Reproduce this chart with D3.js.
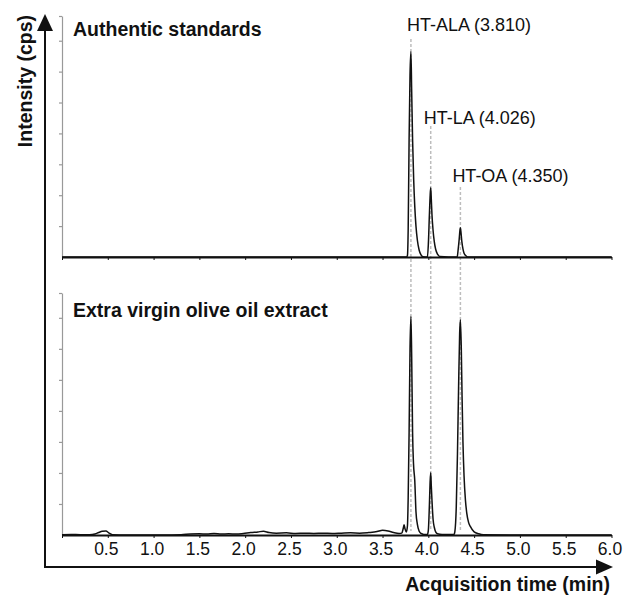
<!DOCTYPE html>
<html>
<head>
<meta charset="utf-8">
<title>Chromatogram</title>
<style>
    body { margin: 0; background: #fff; }
    text { font-family: "Liberation Sans", Arial, sans-serif; fill: #111; }
</style>
</head>
<body>
<div class="plot_container"></div>
<script src="https://cdn.jsdelivr.net/npm/d3@7"></script>
<script type="text/javascript">
// ---- data ----
var panelTitles = ["Authentic standards", "Extra virgin olive oil extract"];
var peakNames = ["HT-ALA", "HT-LA", "HT-OA"];
var peakTimes = [3.810, 4.026, 4.350];
var xTickValues = [0.5, 1.0, 1.5, 2.0, 2.5, 3.0, 3.5, 4.0, 4.5, 5.0, 5.5, 6.0];
var yTickValues = [1, 2, 3, 4, 5, 6, 7];
var xTitle = "Acquisition time (min)";
var yTitle = "Intensity (cps)";

// [time (min), intensity (arbitrary units)]
var standardsTrace = [
    [0, 0], [1, 0], [2, 0], [3, 0], [3.5, 0], [3.765, 0],
    [3.772, 0.05], [3.78, 0.9], [3.79, 3.8], [3.80, 5.9], [3.81, 6.64], [3.818, 5.4],
    [3.828, 3.8], [3.84, 2.5], [3.852, 1.63], [3.865, 1.0], [3.88, 0.55], [3.90, 0.22],
    [3.92, 0.07], [3.94, 0.01],
    [3.99, 0], [4.00, 0.4], [4.012, 1.4], [4.020, 2.0], [4.026, 2.24], [4.032, 1.9],
    [4.040, 1.35], [4.052, 0.85], [4.065, 0.5], [4.08, 0.25], [4.10, 0.09], [4.125, 0.02],
    [4.315, 0], [4.325, 0.22], [4.337, 0.58], [4.345, 0.86], [4.35, 0.95], [4.357, 0.78],
    [4.365, 0.52], [4.378, 0.26], [4.39, 0.12], [4.41, 0.04], [4.43, 0],
    [5, 0], [6, 0]
];
var extractTrace = [
    [0, 0.01], [0.1, 0.02], [0.2, 0.01], [0.3, 0.01], [0.36, 0.03], [0.40, 0.08],
    [0.44, 0.12], [0.48, 0.13], [0.51, 0.07], [0.55, 0.01], [0.7, 0], [0.9, 0],
    [1.1, 0], [1.3, 0.01], [1.4, 0.03], [1.5, 0.04], [1.58, 0.03], [1.66, 0.05],
    [1.74, 0.03], [1.82, 0.04], [1.9, 0.03], [1.98, 0.05], [2.06, 0.08], [2.14, 0.1],
    [2.2, 0.12], [2.26, 0.08], [2.34, 0.06], [2.45, 0.07], [2.55, 0.05], [2.65, 0.06],
    [2.75, 0.05], [2.85, 0.06], [2.95, 0.05], [3.05, 0.06], [3.15, 0.07], [3.25, 0.06],
    [3.35, 0.08], [3.44, 0.11], [3.5, 0.15], [3.56, 0.13], [3.62, 0.08], [3.68, 0.05],
    [3.71, 0.06], [3.725, 0.2], [3.735, 0.33], [3.745, 0.2], [3.76, 0.1],
    [3.772, 0.3], [3.78, 1.2], [3.79, 3.3], [3.80, 6.0], [3.81, 7.04], [3.818, 5.8],
    [3.828, 3.3], [3.838, 2.3], [3.852, 1.75], [3.865, 0.75], [3.88, 0.35], [3.90, 0.12],
    [3.92, 0.05], [3.95, 0.02], [3.99, 0.02],
    [4.00, 0.15], [4.012, 1.0], [4.020, 1.75], [4.026, 2.01], [4.032, 1.6], [4.040, 1.1],
    [4.052, 0.5], [4.065, 0.25], [4.08, 0.1], [4.10, 0.04], [4.15, 0.02], [4.28, 0.02],
    [4.29, 0.12], [4.305, 0.9], [4.318, 2.6], [4.33, 4.7], [4.342, 6.5], [4.35, 6.94],
    [4.36, 6.0], [4.368, 4.5], [4.378, 3.0], [4.39, 1.9], [4.405, 1.13], [4.42, 0.7],
    [4.44, 0.4], [4.46, 0.27], [4.50, 0.1], [4.55, 0.04], [4.6, 0.01], [5, 0], [6, 0]
];

// ---- layout ----
var width = 625;
var height = 595;
var labelLayout = [
    {dx: -4, y: 31, dashTop: 39},
    {dx: -7, y: 124, dashTop: 126},
    {dx: -8, y: 182, dashTop: 187}
];

var svg = d3.select(".plot_container").append("svg")
        .attr("width", width)
        .attr("height", height);

var x = d3.scaleLinear().domain([0, 6]).range([62, 611.5]);
var panels = [
    {title: panelTitles[0], trace: standardsTrace, y: d3.scaleLinear().domain([0, 7.8]).range([257, 16]), titleY: 36},
    {title: panelTitles[1], trace: extractTrace, y: d3.scaleLinear().domain([0, 7.8]).range([535, 293]), titleY: 317}
];
var bottomY = panels[1].y;

// dashed retention-time markers (behind the traces)
svg.selectAll(".marker")
    .data(peakTimes)
    .enter()
    .append("line")
    .attr("class", "marker")
    .attr("x1", function(d){ return x(d); })
    .attr("x2", function(d){ return x(d); })
    .attr("y1", function(d, i){ return labelLayout[i].dashTop; })
    .attr("y2", bottomY(0) - 4)
    .attr("stroke", "#bdbdbd")
    .attr("stroke-width", 1.5)
    .attr("stroke-dasharray", "3,2");

panels.forEach(function(p, k){
    // inner intensity axis (grey)
    var yAxis = d3.axisLeft(p.y)
            .tickValues(yTickValues.concat([7.8]))
            .tickSize(3)
            .tickSizeOuter(0)
            .tickFormat("");
    var ga = svg.append("g")
            .attr("transform", "translate(" + x(0) + ",0)")
            .call(yAxis);
    ga.selectAll("path, line").attr("stroke", "#999").attr("stroke-width", 1.2);

    // trace
    var line = d3.line()
            .x(function(d){ return x(d[0]); })
            .y(function(d){ return p.y(d[1]); })
            .curve(d3.curveMonotoneX);
    svg.append("path")
        .datum(p.trace)
        .attr("d", line)
        .attr("fill", "none")
        .attr("stroke", "#111")
        .attr("stroke-width", 1.5)
        .attr("stroke-linejoin", "round");

    // time baseline with ticks
    var xAxis = d3.axisBottom(x)
            .tickValues([0].concat(xTickValues))
            .tickSize(3)
            .tickSizeOuter(0)
            .tickFormat("");
    var gx = svg.append("g")
            .attr("transform", "translate(0," + p.y(0) + ")")
            .call(xAxis);
    gx.select(".domain").attr("stroke", "#111").attr("stroke-width", 2);
    gx.selectAll(".tick line").attr("stroke", "#111").attr("stroke-width", 1);

    // panel title
    svg.append("text")
        .attr("x", 73)
        .attr("y", p.titleY)
        .attr("font-size", "19.5px")
        .attr("font-weight", "bold")
        .text(p.title);
});

// tick labels under the lower panel
svg.selectAll(".xlab")
    .data(xTickValues)
    .enter()
    .append("text")
    .attr("class", "xlab")
    .attr("x", function(d){ return x(d) - 1.5; })
    .attr("y", 554.5)
    .attr("text-anchor", "middle")
    .attr("font-size", "17.5px")
    .text(function(d){ return d.toFixed(1); });

// peak labels
svg.selectAll(".peaklab")
    .data(peakNames)
    .enter()
    .append("text")
    .attr("class", "peaklab")
    .attr("x", function(d, i){ return x(peakTimes[i]) + labelLayout[i].dx; })
    .attr("y", function(d, i){ return labelLayout[i].y; })
    .attr("font-size", "18px")
    .text(function(d, i){ return d + " (" + peakTimes[i].toFixed(3) + ")"; });

// outer arrows
svg.append("line")
    .attr("x1", 45).attr("y1", 567).attr("x2", 45).attr("y2", 28)
    .attr("stroke", "#111").attr("stroke-width", 2);
svg.append("path")
    .attr("d", "M45,14 L37,31 L53,31 Z")
    .attr("fill", "#111");
svg.append("line")
    .attr("x1", 44).attr("y1", 567).attr("x2", 599).attr("y2", 567)
    .attr("stroke", "#111").attr("stroke-width", 2);
svg.append("path")
    .attr("d", "M613,567 L596,559.5 L596,574.5 Z")
    .attr("fill", "#111");

// axis titles
svg.append("text")
    .attr("transform", "translate(32,15) rotate(-90)")
    .attr("text-anchor", "end")
    .attr("font-size", "19.5px")
    .attr("font-weight", "bold")
    .text(yTitle);
svg.append("text")
    .attr("x", 610)
    .attr("y", 591)
    .attr("text-anchor", "end")
    .attr("font-size", "19.5px")
    .attr("font-weight", "bold")
    .text(xTitle);
</script>
</body>
</html>
